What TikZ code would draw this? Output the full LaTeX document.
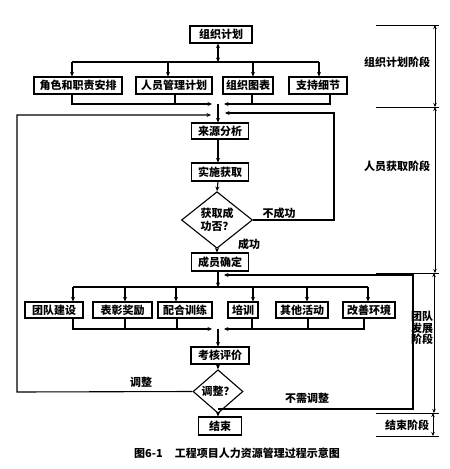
\documentclass[tikz,border=0pt]{standalone}
\usepackage{fontspec}
\setmainfont{Noto Sans CJK SC}
\usetikzlibrary{arrows.meta,shapes.geometric}
\begin{document}
\begin{tikzpicture}[x=1pt,y=-1pt,line width=1.1pt,
  font=\fontsize{11pt}{12pt}\selectfont\bfseries,
  >={Stealth[length=4.5pt,width=4pt]},
  box/.style={draw,rectangle,inner sep=0pt,minimum height=17pt},
  lbl/.style={inner sep=0pt},
  dim/.style={line width=0.7pt,{Stealth[length=4pt,width=3.5pt]}-{Stealth[length=4pt,width=3.5pt]}},
  stage/.style={line width=0.8pt}]
\useasboundingbox (0,0) rectangle (450,469);
% main column
\node[box,minimum width=62pt] (plan) at (221,34.5) {组织计划};
\node[box,minimum width=88pt] (r1) at (78,85.5) {角色和职责安排};
\node[box,minimum width=76pt] (r2) at (174,85.5) {人员管理计划};
\node[box,minimum width=50pt] (r3) at (248,85.5) {组织图表};
\node[box,minimum width=58pt] (r4) at (318,85.5) {支持细节};
\node[box,minimum width=57pt,minimum height=16pt] (src) at (220,131) {来源分析};
\node[box,minimum width=57pt,minimum height=18pt] (impl) at (220,172) {实施获取};
\node[draw,diamond,inner sep=0pt,minimum width=71pt,minimum height=42pt,align=center,font=\fontsize{11pt}{13pt}\selectfont\bfseries] (d1) at (217,220) {获取成\\功否？};
\node[box,minimum width=57pt,minimum height=18pt] (conf) at (220,262) {成员确定};
\node[box,minimum width=58pt,minimum height=16pt] (t1) at (54,310) {团队建设};
\node[box,minimum width=59pt,minimum height=16pt] (t2) at (122.5,310) {表彰奖励};
\node[box,minimum width=54pt,minimum height=16pt] (t3) at (185,310) {配合训练};
\node[box,minimum width=30pt,minimum height=16pt] (t4) at (243,310) {培训};
\node[box,minimum width=52pt,minimum height=16pt] (t5) at (302,310) {其他活动};
\node[box,minimum width=52pt,minimum height=16pt] (t6) at (369,310) {改善环境};
\node[box,minimum width=58pt] (eval) at (220,355.5) {考核评价};
\node[draw,diamond,inner sep=0pt,minimum width=50pt,minimum height=29pt] (d2) at (218,391.5) {调整？};
\node[box,minimum width=43pt,minimum height=18pt] (end) at (220,426) {结束};
% coordinates
\coordinate (s1) at (218,62);
\coordinate (m1) at (218,104);
\coordinate (s2) at (218,287);
\coordinate (m2) at (218,329);
\coordinate (j) at (218,409);
% planning split
\draw[<->] (plan.south -| s1) -- (s1);
\draw (72,62) -- (319,62);
\foreach \xx/\b in {72/r1,168/r2,253/r3,319/r4}{
  \draw[->] (\xx,62) -- (\xx,0 |- \b.north);
}
% planning merge
\draw[->] (72,0 |- r1.south) -- (72,104) -- (212,104);
\draw (175,0 |- r2.south) -- (175,104);
\draw[->] (330,0 |- r4.south) -- (330,104) -- (224,104);
\draw (252,0 |- r3.south) -- (252,104);
\draw[->] (m1) -- (src.north -| m1);
% acquisition
\draw[->] (src.south -| m1) -- (impl.north -| m1);
\draw[->] (impl.south -| m1) -- (d1.north);
\draw[->] (d1.south) -- (conf.north -| d1.south);
\draw[->] (d1.east) -- (334,220) -- (334,113) -- (225,113);
% development split
\draw[->] (conf.south -| s2) -- (s2);
\draw (73,287) -- (368,287);
\foreach \xx/\b in {73/t1,125/t2,176/t3,253/t4,307/t5,368/t6}{
  \draw[->] (\xx,287) -- (\xx,0 |- \b.north);
}
% development merge
\draw[->] (73,0 |- t1.south) -- (73,329) -- (212,329);
\draw (125,0 |- t2.south) -- (125,329);
\draw (177,0 |- t3.south) -- (177,329);
\draw[->] (364,0 |- t6.south) -- (364,329) -- (224,329);
\draw (252,0 |- t4.south) -- (252,329);
\draw (308,0 |- t5.south) -- (308,329);
\draw[->] (m2) -- (eval.north -| m2);
\draw[->] (eval.south -| m2) -- (d2.north);
\draw[->] (d2.south) -- (end.north -| d2.south);
% loops
\draw[->] (d2.west) -- (17,392) -- (17,115) -- (211,115);
\draw[->] (j) -- (413,409) -- (413,275) -- (224,275);
% labels
\node[lbl] (l1) at (279,213) {不成功};
\node[lbl] (l2) at (249,244) {成功};
\node[lbl] (l3) at (141,382) {调整};
\node[lbl] (l4) at (307,398) {不需调整};
% stages
\foreach \yy in {25,107,273,413,436}{\draw[stage] (376,\yy) -- (439,\yy);}
\draw[dim] (435,25) -- (435,107);
\draw[dim] (435,107) -- (435,273);
\draw[dim] (434,273) -- (434,413);
\draw[dim] (433,413) -- (433,436);
\node[lbl] (g1) at (397,62) {组织计划阶段};
\node[lbl] (g2) at (397,166) {人员获取阶段};
\node[lbl,align=left,font=\fontsize{11pt}{11.5pt}\selectfont\bfseries] (g3) at (422,328) {团队\\发展\\阶段};
\node[lbl] (g4) at (407,425) {结束阶段};
% caption
\node[lbl,font=\fontsize{11pt}{12pt}\selectfont\bfseries] (cap) at (237,453) {图6-1\hspace{12pt}工程项目人力资源管理过程示意图};
\end{tikzpicture}
\end{document}
